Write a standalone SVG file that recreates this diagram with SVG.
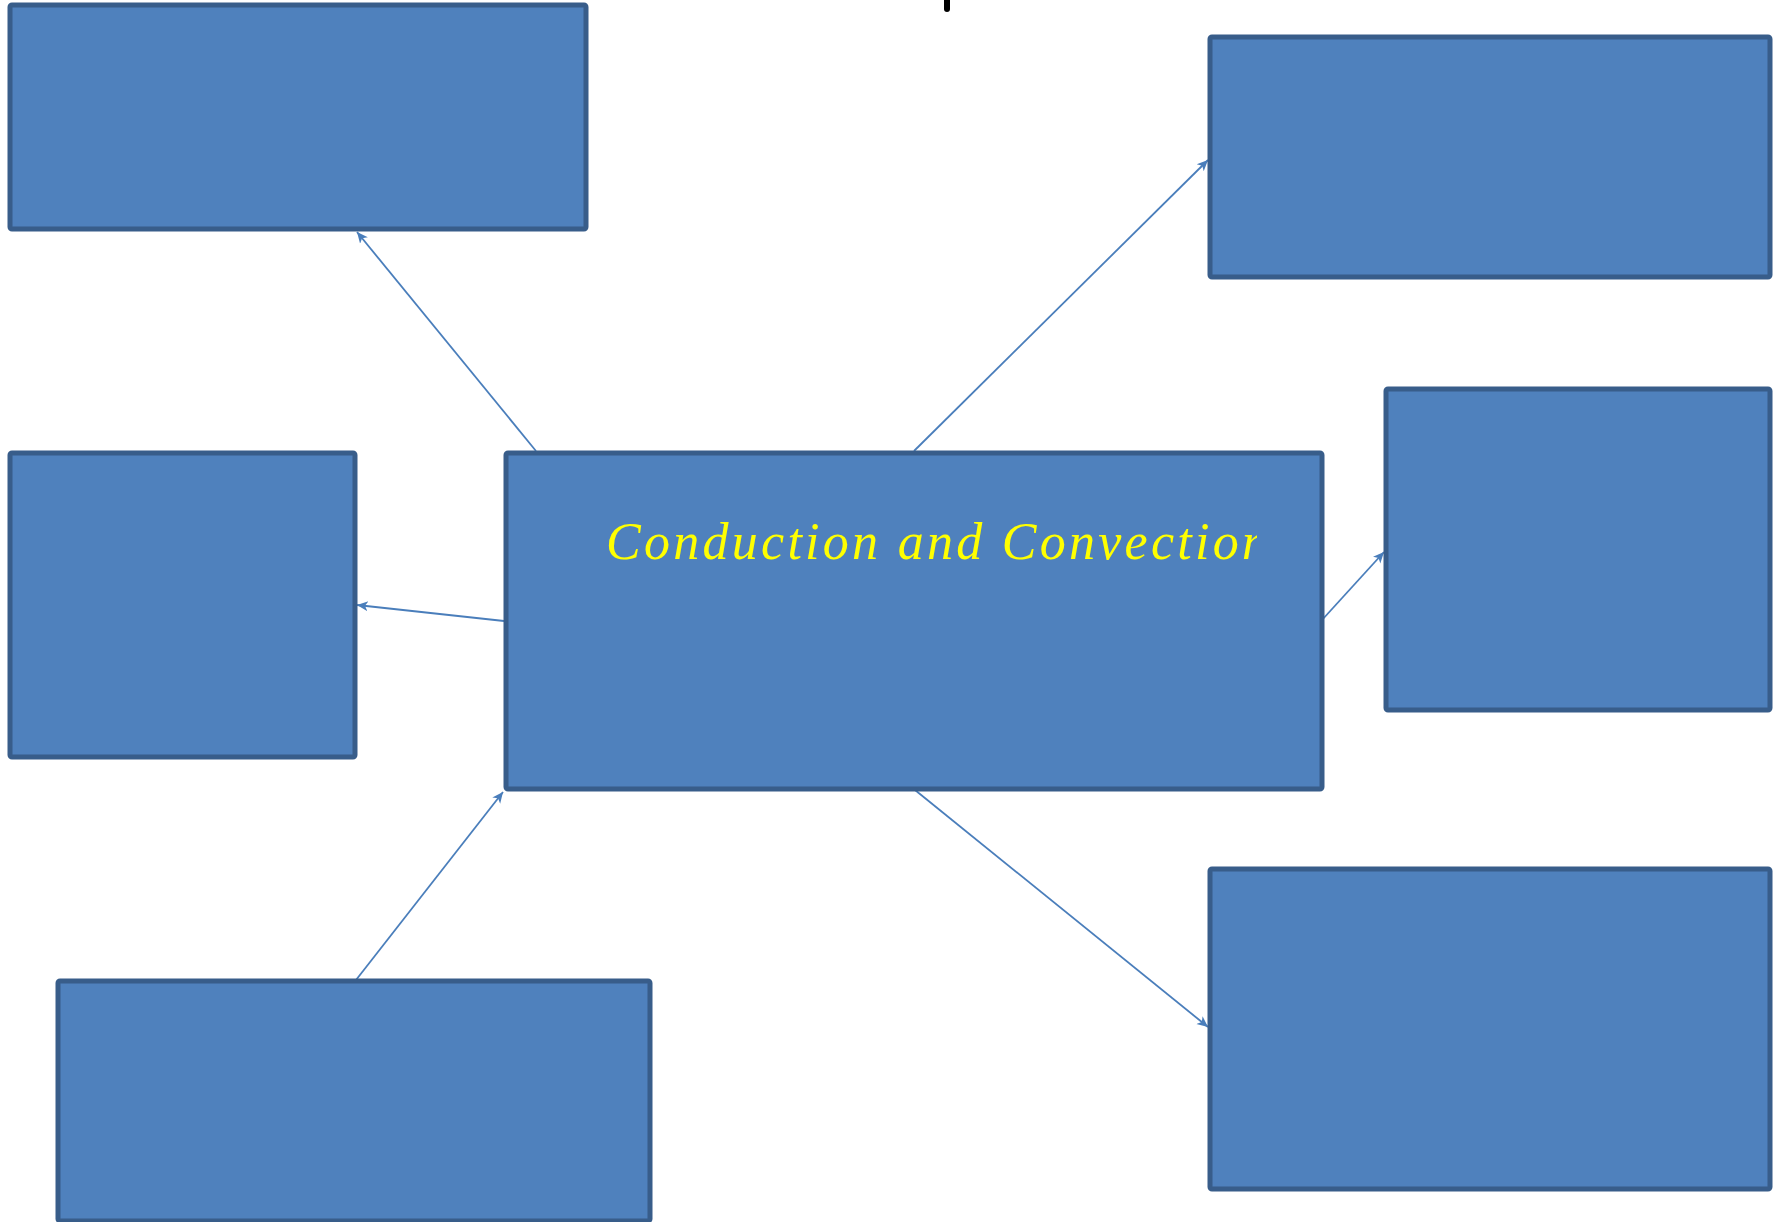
<svg xmlns="http://www.w3.org/2000/svg" width="1783" height="1222" viewBox="0 0 1783 1222">
<style>
.box{fill:#4F81BD;stroke:#385D8A;stroke-width:5;stroke-linejoin:round}
.conn{stroke:#4A7EBB;stroke-width:1.8;fill:none}
.title{font-family:"Liberation Serif","DejaVu Serif",serif;font-style:italic;font-size:52px;fill:#FFFF00}
</style>
<defs>
<marker id="arr" markerUnits="userSpaceOnUse" markerWidth="14" markerHeight="12" refX="11" refY="6" orient="auto">
<path d="M0,1 L11,6 L0,11 L3,6 Z" fill="#4A7EBB"/>
</marker>
<clipPath id="clipText"><rect x="505" y="453" width="752" height="336"/></clipPath>
</defs>
<rect width="1783" height="1222" fill="#FFFFFF"/>
<line x1="947" y1="-3" x2="947" y2="9" stroke="#000" stroke-width="6" stroke-linecap="round"/>
<g id="connectors">
<line class="conn" x1="536" y1="451" x2="357" y2="232" marker-end="url(#arr)"/>
<line class="conn" x1="914" y1="451" x2="1208" y2="160" marker-end="url(#arr)"/>
<line class="conn" x1="504" y1="621" x2="357" y2="605" marker-end="url(#arr)"/>
<line class="conn" x1="1322" y1="620" x2="1384" y2="552" marker-end="url(#arr)"/>
<line class="conn" x1="356" y1="980" x2="503" y2="792" marker-end="url(#arr)"/>
<line class="conn" x1="915" y1="790" x2="1208" y2="1027" marker-end="url(#arr)"/>
</g>
<g id="node-top-left"><rect class="box" x="10" y="5" width="576" height="224" rx="2"/></g>
<g id="node-top-right"><rect class="box" x="1210" y="37" width="560" height="240" rx="2"/></g>
<g id="node-left"><rect class="box" x="10" y="453" width="345" height="304" rx="2"/></g>
<g id="node-right"><rect class="box" x="1386" y="389" width="384" height="321" rx="2"/></g>
<g id="node-bottom-right"><rect class="box" x="1210" y="869" width="560" height="320" rx="2"/></g>
<g id="node-bottom-left"><rect class="box" x="58" y="981" width="592" height="240" rx="2"/></g>
<g id="node-center">
<rect class="box" x="506" y="453" width="816" height="336" rx="2"/>
<g clip-path="url(#clipText)">
<text class="title" x="606" y="559" textLength="662" lengthAdjust="spacing">Conduction and Convection</text>
</g>
</g>
</svg>
